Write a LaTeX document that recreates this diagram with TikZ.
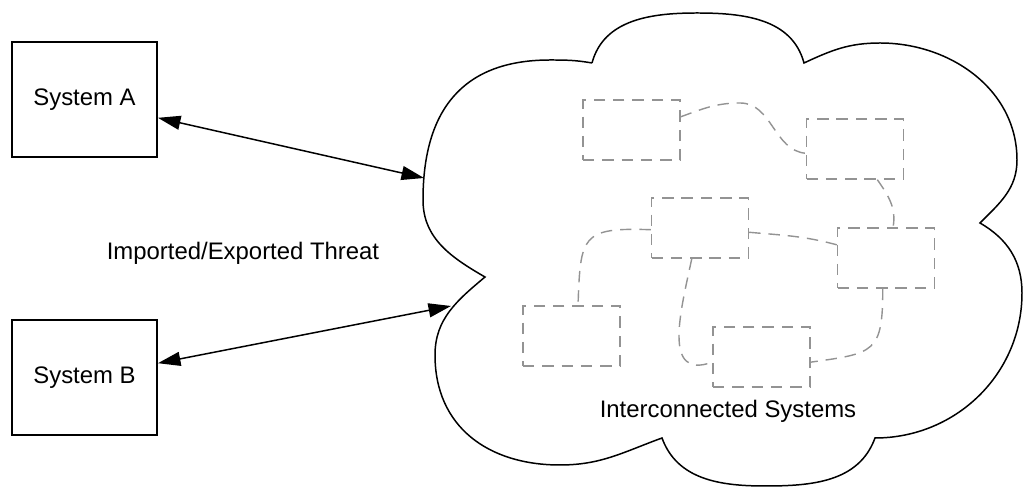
\documentclass[tikz,border=0pt]{standalone}
\usepackage{fontspec}
\setmainfont{Liberation Sans}
\usetikzlibrary{arrows.meta}

\begin{document}
\begin{tikzpicture}[>={Triangle[length=4.5mm,width=2.8mm]}, line width=0.85pt,
    font=\fontsize{13.6}{16}\selectfont,
    system/.style={draw, line width=1.1pt, minimum width=2.9cm, minimum height=2.3cm},
    subsys/.style={draw=gray!85, line width=0.8pt, dash pattern=on 6.5pt off 4.5pt, minimum width=1.94cm, minimum height=1.2cm},
    link/.style={gray!85, line width=0.8pt, dash pattern=on 6.5pt off 4.5pt}]

    \useasboundingbox (0,0) rectangle (20.48,9.76);

    % the cloud
    \draw (11.84,8.50) to[out=75,in=180] (13.94,9.50) to[out=0,in=105] (16.08,8.50)
        to[out=25,in=180] (17.60,8.90) to[out=0,in=90] (20.34,6.56) to[out=-90,in=45] (19.60,5.30)
        to[out=-30,in=90] (20.44,3.90) to[out=-90,in=0] (17.50,1.00)
        to[out=-110,in=0] (15.30,0.04) to[out=180,in=-70] (13.24,1.00)
        to[out=200,in=0] (11.20,0.46) to[out=180,in=-90,looseness=1.1] (8.70,2.66) to[out=90,in=220] (9.70,4.22)
        to[out=150,in=-90] (8.46,5.76) to[out=90,in=180,looseness=1.2] (11.00,8.56) to[out=0,in=170] (11.84,8.50);

    \coordinate (cloudA) at (8.48,6.20);
    \coordinate (cloudB) at (9.02,3.64);

    \node[system] at (1.69,7.77) (sysA) {System A};
    \node[system] at (1.69,2.21) (sysB) {System B};
    \node at (4.86,4.70) (threat) {Imported/Exported Threat};

    \node[subsys] at (12.63,7.16) (box1) {};
    \node[subsys] at (17.10,6.78) (box2) {};
    \node[subsys] at (14.00,5.20) (box3) {};
    \node[subsys] at (17.72,4.60) (box4) {};
    \node[subsys] at (11.43,3.04) (box5) {};
    \node[subsys] at (15.23,2.62) (box6) {};
    \node at (14.56,1.54) (inter) {Interconnected Systems};

    \draw[<->] (sysA.-14) -- (cloudA);
    \draw[<->] (sysB.11) -- (cloudB);

    \draw[link] (box1.15) to[out=20,in=180] (14.80,7.70) to[out=0,in=175] (box2.185);
    \draw[link] (box2.-54) to[out=-55,in=80] (box4.77);
    \draw[link] (box3.-5) to[out=-5,in=165] (box4.165);
    \draw[link] (box3.182) to[out=178,in=88,looseness=1.7] (box5.78);
    \draw[link] (box3.-105) to[out=-102,in=200,looseness=1.3] (box6.186);
    \draw[link] (box4.-96) to[out=-90,in=8,looseness=1.6] (box6.-6);

\end{tikzpicture}
\end{document}
